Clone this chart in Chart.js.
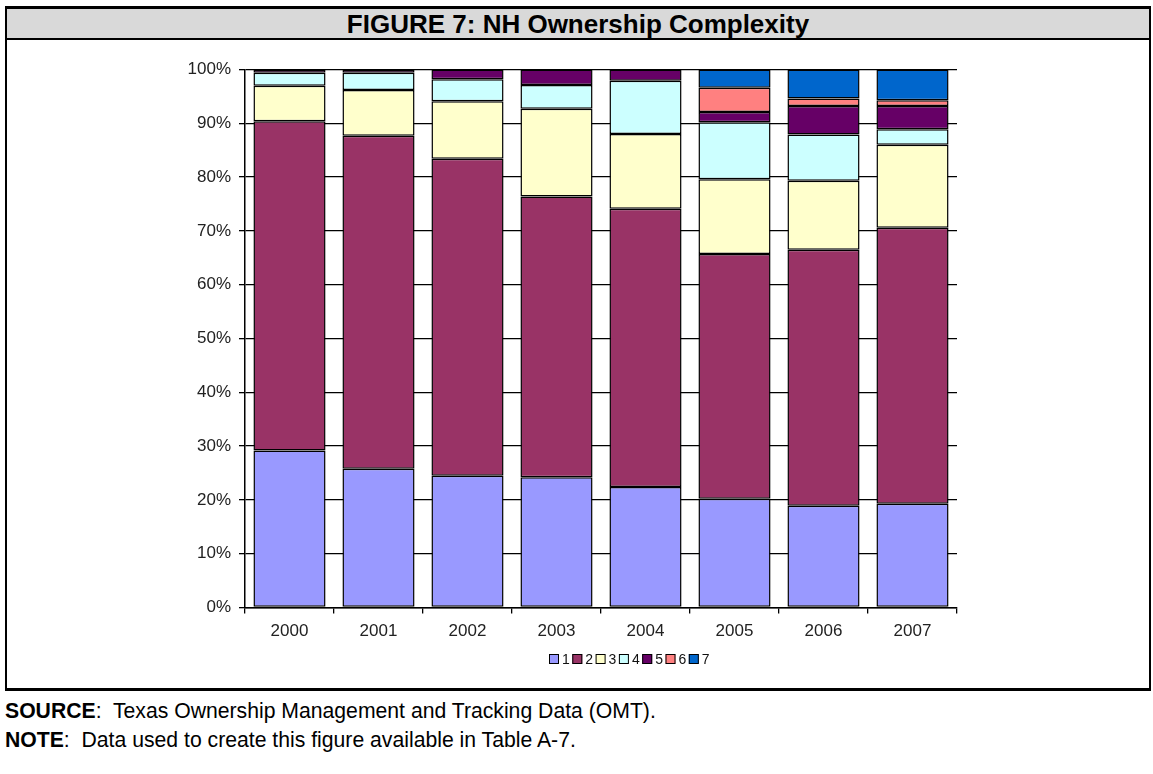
<!DOCTYPE html>
<html>
<head>
<meta charset="utf-8">
<title>NH Ownership Complexity</title>
<script src="https://cdn.jsdelivr.net/npm/chart.js@4.4.0/dist/chart.umd.min.js"></script>
<style>
  body {
    margin: 0;
    width: 1153px;
    height: 774px;
    background: #fff;
    position: relative;
    overflow: hidden;
    font-family: "Liberation Sans", Arial, sans-serif;
  }
  #frame {
    position: absolute;
    box-sizing: border-box;
    left: 5px;
    top: 6px;
    width: 1146px;
    height: 685px;
    border: 2px solid #000;
    border-top-width: 3px;
    border-bottom-width: 3px;
  }
  #title {
    height: 29px;
    line-height: 30px;
    background: #d9d9d9;
    border-bottom: 2px solid #000;
    text-align: center;
    font-weight: bold;
    font-size: 26px;
    color: #000;
  }
  #chartBox {
    position: absolute;
    left: 7px;
    top: 40px;
    width: 1141px;
    height: 648px;
  }
  .foot {
    position: absolute;
    left: 5px;
    font-size: 21.2px;
    color: #000;
    white-space: pre;
  }
</style>
</head>
<body>
<div id="frame"><div id="title">FIGURE 7: NH Ownership Complexity</div></div>
<div id="chartBox"><canvas id="ownerChart" width="1141" height="648"></canvas></div>
<div class="foot" style="top:699px"><b>SOURCE</b>:  Texas Ownership Management and Tracking Data (OMT).</div>
<div class="foot" style="top:728px"><b>NOTE</b>:  Data used to create this figure available in Table A-7.</div>

<script>
const years = ['2000', '2001', '2002', '2003', '2004', '2005', '2006', '2007'];

// share of nursing homes (%) by number of owners
const owners1 = [29.2, 25.8, 24.5, 24.2, 22.4, 20.2, 18.9, 19.3];
const owners2 = [61.2, 61.9, 58.9, 52.2, 51.7, 45.5, 47.6, 51.3];
const owners3 = [6.6, 8.5, 10.7, 16.3, 13.9, 13.9, 12.8, 15.4];
const owners4 = [2.4, 3.2, 4.1, 4.4, 9.9, 10.6, 8.6, 2.9];
const owners5 = [0.6, 0.6, 1.8, 2.9, 2.1, 1.9, 5.3, 4.3];
const owners6 = [0, 0, 0, 0, 0, 4.5, 1.4, 1.1];
const owners7 = [0, 0, 0, 0, 0, 3.4, 5.4, 5.7];

const seriesNames = ['1', '2', '3', '4', '5', '6', '7'];
const seriesColors = ['#9999ff', '#993366', '#ffffcc', '#ccffff', '#660066', '#ff8080', '#0066cc'];
const seriesData = [owners1, owners2, owners3, owners4, owners5, owners6, owners7];

const FONT = '"Liberation Sans", Arial, sans-serif';

// small boxed key under the axis, laid out like the spreadsheet legend
const bottomKey = {
  id: 'bottomKey',
  afterDraw(chart) {
    const ctx = chart.ctx;
    ctx.save();
    ctx.font = '14px ' + FONT;
    ctx.textBaseline = 'middle';
    let x = 542;
    const y = 619;
    chart.data.datasets.forEach(ds => {
      ctx.fillStyle = ds.backgroundColor;
      ctx.fillRect(x, y - 5, 10, 10);
      ctx.strokeStyle = '#000';
      ctx.lineWidth = 1;
      ctx.strokeRect(x + 0.5, y - 4.5, 9, 9);
      ctx.fillStyle = '#111';
      ctx.fillText(ds.label, x + 13, y + 1);
      x += 23.3;
    });
    ctx.restore();
  }
};

const datasets = seriesNames.map((name, i) => ({
  label: name,
  data: seriesData[i],
  backgroundColor: seriesColors[i],
  borderColor: '#000',
  borderWidth: 1.5,
  borderSkipped: false,
  barPercentage: 0.81,
  categoryPercentage: 1.0
}));

new Chart(document.getElementById('ownerChart'), {
  type: 'bar',
  data: { labels: years, datasets: datasets },
  options: {
    responsive: false,
    animation: false,
    layout: {
      padding: { left: 0, top: 29.5, right: 191, bottom: 40.5 }
    },
    plugins: {
      legend: { display: false },
      tooltip: { enabled: false }
    },
    scales: {
      x: {
        stacked: true,
        afterFit: scale => { scale.height = 40; },
        grid: {
          offset: true,
          drawOnChartArea: false,
          color: '#000',
          tickLength: 6,
          lineWidth: 1.3
        },
        border: { display: true, color: '#000', width: 1.5 },
        ticks: { color: '#222', font: { family: FONT, size: 17 }, padding: 8 }
      },
      y: {
        stacked: true,
        min: 0,
        max: 100,
        afterFit: scale => { scale.width = 238; },
        grid: {
          color: '#000',
          lineWidth: 1.3,
          tickLength: 6
        },
        border: { display: true, color: '#000', width: 1.5 },
        ticks: {
          stepSize: 10,
          color: '#222',
          padding: 8,
          font: { family: FONT, size: 17 },
          callback: v => v + '%'
        }
      }
    }
  },
  plugins: [bottomKey]
});
</script>
</body>
</html>
